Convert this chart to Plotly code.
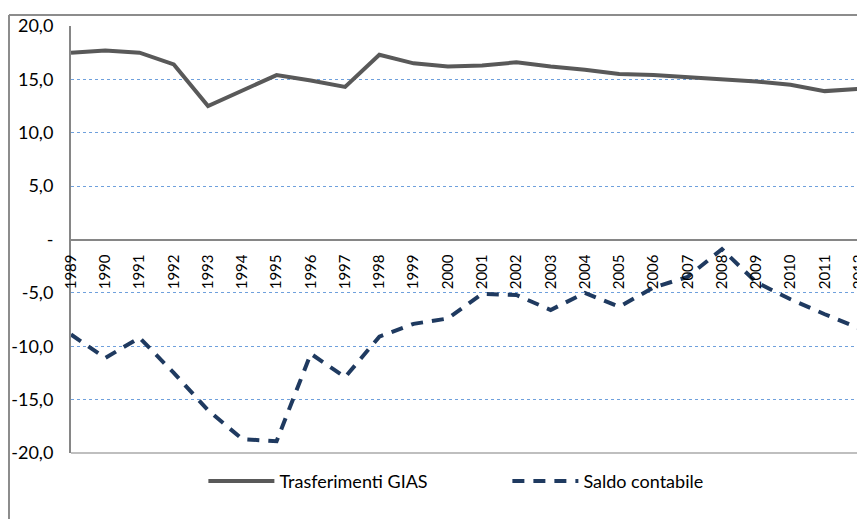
import plotly.graph_objects as go

years = list(range(1989, 2013))
year_labels = [str(y) for y in years]

trasferimenti_gias = [17.5, 17.7, 17.5, 16.4, 12.5, 14.0, 15.4, 14.9, 14.3, 17.3, 16.5, 16.2,
                      16.3, 16.6, 16.2, 15.9, 15.5, 15.4, 15.2, 15.0, 14.8, 14.5, 13.9, 14.1]
saldo_contabile = [-8.9, -11.1, -9.2, -12.5, -16.0, -18.7, -18.9, -10.7, -12.9, -9.1, -7.9, -7.4,
                   -5.1, -5.2, -6.6, -5.0, -6.3, -4.5, -3.5, -0.9, -4.0, -5.6, -7.0, -8.3]

y_tickvals = [-20, -15, -10, -5, 0, 5, 10, 15, 20]
y_ticktext = ["-20,0", "-15,0", "-10,0", "-5,0", "-", "5,0", "10,0", "15,0", "20,0"]

FONT = "Lato, 'Open Sans', sans-serif"

fig = go.Figure()
fig.add_trace(go.Scatter(
    x=years, y=trasferimenti_gias, mode="lines", name="Trasferimenti GIAS",
    line=dict(color="#595959", width=4), cliponaxis=False,
))
fig.add_trace(go.Scatter(
    x=years, y=saldo_contabile, mode="lines", name="Saldo contabile",
    line=dict(color="#1F3A60", width=4, dash="12px,9px"), cliponaxis=False,
))

# page body adds an 8px margin, so the figure is 857x511 and offsets are reduced by 8
fig.update_layout(
    width=857, height=511,
    margin=dict(l=63, r=6, t=18, b=66, autoexpand=False),
    paper_bgcolor="white", plot_bgcolor="white",
    font=dict(family=FONT, size=14, color="#000000"),
    showlegend=True,
    legend=dict(orientation="h", x=0.168, xanchor="left", y=-0.066, yanchor="middle",
                font=dict(size=18, color="#000000"), entrywidth=223, itemwidth=66,
                traceorder="normal", bgcolor="rgba(0,0,0,0)"),
    xaxis=dict(
        range=[1989, 2012], tickvals=years, ticktext=year_labels, tickangle=-90,
        anchor="free", position=0.5, side="bottom", automargin=False,
        ticklabeloverflow="allow",
        showline=True, linecolor="#868686", linewidth=2,
        showgrid=False, zeroline=False, ticks="", ticklabelstandoff=8,
        tickfont=dict(size=15, color="#000000"),
    ),
    yaxis=dict(
        range=[-20, 20], tickvals=y_tickvals, ticktext=y_ticktext, automargin=False,
        showline=True, linecolor="#868686", linewidth=2,
        showgrid=True, gridcolor="#6FA0DC", griddash="dot", gridwidth=1,
        zeroline=False, ticks="", ticklabelstandoff=12,
        tickfont=dict(size=18, color="#000000"),
    ),
    shapes=[
        dict(type="line", xref="paper", yref="paper", x0=1, x1=1, y0=0, y1=1,
             line=dict(color="#A6A6A6", width=2), layer="below"),
        dict(type="line", xref="paper", yref="paper", x0=0, x1=1, y0=0, y1=0,
             line=dict(color="#BFBFBF", width=2), layer="below"),
        dict(type="line", xref="paper", yref="paper", x0=-0.0787, x1=1.02, y0=1.0258, y1=1.0258,
             line=dict(color="#8C8C8C", width=2)),
        dict(type="line", xref="paper", yref="paper", x0=-0.0787, x1=-0.0787, y0=1.0258, y1=-0.2,
             line=dict(color="#8C8C8C", width=2)),
    ],
)

fig.write_html("out.html")
